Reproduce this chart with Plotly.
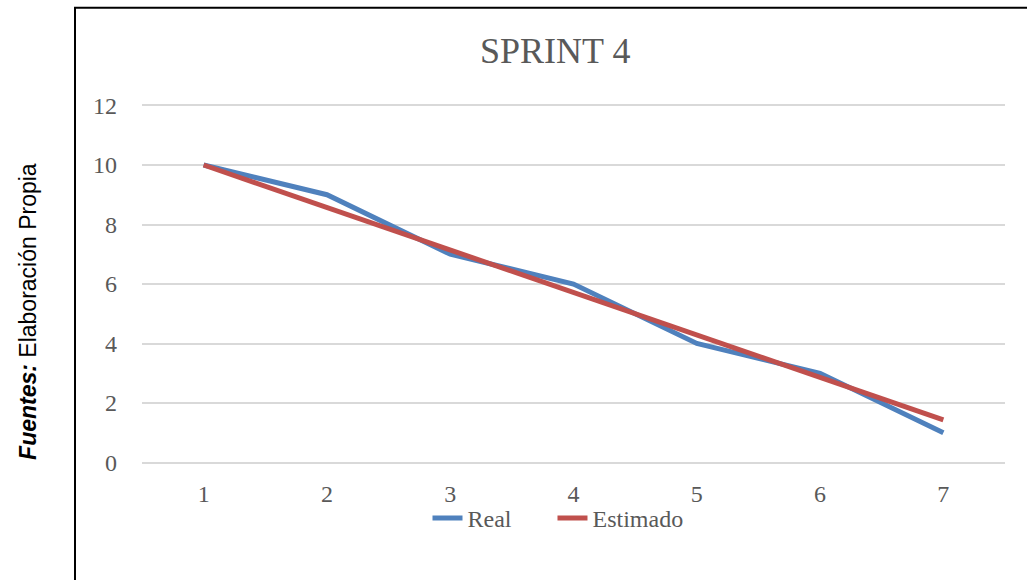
import plotly.graph_objects as go

# Data
dias = ["1", "2", "3", "4", "5", "6", "7"]
real = [10, 9, 7, 6, 4, 3, 1]
estimado = [10, 8.57, 7.14, 5.71, 4.29, 2.86, 1.43]

SERIF = "Liberation Serif"
GRIS = "#595959"
NBSP = "\u00a0"

fig = go.Figure()

# trailing non-breaking spaces only widen the gap between legend entries
fig.add_trace(
    go.Scatter(
        x=dias, y=real, mode="lines", name="Real" + NBSP * 6,
        line=dict(color="#4F81BD", width=5),
    )
)
fig.add_trace(
    go.Scatter(
        x=dias, y=estimado, mode="lines", name="Estimado",
        line=dict(color="#C0504D", width=5),
    )
)

# plot area in pixels: l=142, r=22, t=103.5, b=115.5
W, H = 1027, 580
L, R, T, B = 142, 22, 103.5, 115.5
pw, ph = W - L - R, H - T - B


def px(x):
    return (x - L) / pw


def py(y):
    return (H - B - y) / ph


fig.update_layout(
    width=W,
    height=H,
    margin=dict(l=L, r=R, t=T, b=B, pad=0),
    plot_bgcolor="white",
    paper_bgcolor="white",
    showlegend=True,
    legend=dict(
        orientation="h", x=px(558), y=py(519), xanchor="center", yanchor="middle",
        bgcolor="rgba(0,0,0,0)",
        font=dict(family=SERIF, size=24, color=GRIS),
    ),
    xaxis=dict(
        type="category",
        range=[-0.5, 6.5],
        showgrid=False,
        zeroline=False,
        showline=False,
        ticks="",
        ticklabelstandoff=13,
        tickfont=dict(family=SERIF, size=24, color=GRIS),
    ),
    yaxis=dict(
        range=[-0.05, 12.05],
        tickvals=[0, 2, 4, 6, 8, 10, 12],
        showgrid=True,
        gridcolor="#D9D9D9",
        gridwidth=1.5,
        zeroline=False,
        showline=False,
        ticks="",
        ticklabelstandoff=24,
        tickfont=dict(family=SERIF, size=24, color=GRIS),
    ),
    annotations=[
        dict(
            text="SPRINT 4", x=px(555), y=py(50), xref="paper", yref="paper",
            showarrow=False, xanchor="center", yanchor="middle",
            font=dict(family=SERIF, size=36, color=GRIS),
        ),
        dict(
            text="<b><i>Fuentes:</i></b> Elaboración Propia",
            x=px(28), y=py(312), xref="paper", yref="paper",
            showarrow=False, textangle=-90, xanchor="center", yanchor="middle",
            font=dict(family="Liberation Sans", size=23, color="black"),
        ),
    ],
    shapes=[
        dict(type="line", xref="paper", yref="paper",
             x0=px(75), x1=px(75), y0=py(7), y1=py(590),
             line=dict(color="black", width=2)),
        dict(type="line", xref="paper", yref="paper",
             x0=px(74), x1=px(1040), y0=py(7), y1=py(7),
             line=dict(color="black", width=2)),
    ],
)

# the page body has a default 8px margin; drop it so the figure sits at 0,0
fig.write_html(
    "out.html",
    config={"displayModeBar": False},
    post_script="document.body.style.margin='0';",
)
